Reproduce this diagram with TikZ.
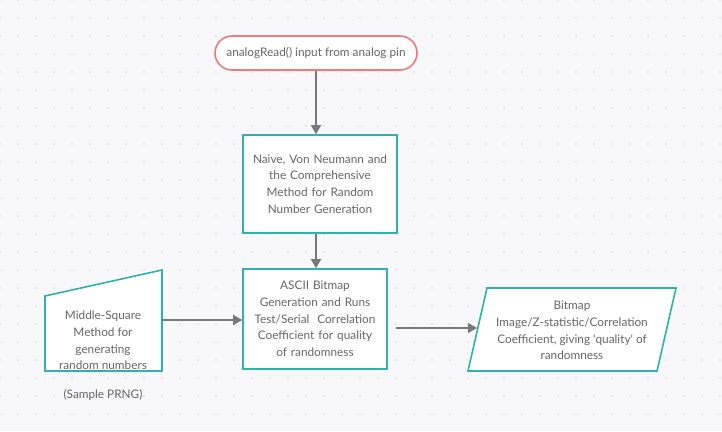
\documentclass[tikz,border=0pt]{standalone}
\usepackage{fontspec}
\setmainfont{Lato}
\usetikzlibrary{arrows.meta}
\definecolor{bgc}{HTML}{F8F8FA}
\definecolor{dotc}{HTML}{DCDDE2}
\definecolor{teal}{HTML}{2EB2AB}
\definecolor{pillred}{HTML}{EF7A7A}
\definecolor{txt}{HTML}{666666}
\definecolor{arr}{HTML}{787878}
\tikzset{
  lbl/.style={text=txt, font=\fontsize{11.8bp}{16.7bp}\selectfont, align=center, inner sep=0pt},
  tealbox/.style={draw=teal, line width=1.6bp, fill=white, text=txt, font=\fontsize{11.8bp}{16.7bp}\selectfont, align=center},
  conn/.style={draw=arr, line width=1.5bp, -{Triangle[length=9bp,width=10bp]}},
  plainline/.style={draw=arr, line width=1.5bp}
}
\begin{document}
\begin{tikzpicture}[x=1bp,y=-1bp]
\fill[bgc] (0,0) rectangle (722,431);
\useasboundingbox (0,0) rectangle (722,431);
\foreach \i in {0,...,40}{\foreach \j in {0,...,23}{\fill[dotc] (\i*18,\j*18) circle (1bp);}}
% terminator
\node[draw=pillred, line width=1.6bp, fill=white, rounded corners=17bp, minimum width=202bp, minimum height=34bp, text=txt, font=\fontsize{11.8bp}{16.7bp}\selectfont, inner sep=0pt] (pill) at (316,53) {analogRead() input from analog pin};
% box 1
\node[tealbox, minimum width=154bp, minimum height=98bp, text width=150bp, inner sep=0pt] (box1) at (320,184) {Naive, Von Neumann and\\the Comprehensive\\Method for Random\\Number Generation};
% box 2
\node[tealbox, minimum width=144bp, minimum height=100bp, text width=140bp, inner sep=0pt] (box2) at (315,319) {ASCII Bitmap\\Generation and Runs\\Test/Serial\ \ Correlation\\Coefficient for quality\\of randomness};
% manual input shape
\draw[draw=teal, line width=1.6bp, fill=white] (45,296) -- (162,270) -- (162,371) -- (45,371) -- cycle;
\node[lbl] (trap) at (103,340.5) {Middle-Square\\Method for\\generating\\random numbers};
\node[lbl] (prng) at (103,395) {(Sample PRNG)};
\coordinate (trapR) at (162,320);
% parallelogram
\draw[draw=teal, line width=1.6bp, fill=white] (487,288) -- (676,288) -- (657,371) -- (468,371) -- cycle;
\node[lbl] (para) at (572,330.5) {Bitmap\\Image/Z-statistic/Correlation\\Coefficient, giving \textquotesingle quality\textquotesingle\ of\\randomness};
\coordinate (paraL) at (477,328);
\coordinate (b2out) at (396,328);
% connectors
\draw[conn] (pill.south) -- (pill.south |- box1.north);
\draw[conn] (box1.south -| pill.south) -- (box2.north -| pill.south);
\draw[conn] (trapR) -- (box2.west |- trapR);
\draw[conn] (b2out) -- (paraL);
\end{tikzpicture}
\end{document}
